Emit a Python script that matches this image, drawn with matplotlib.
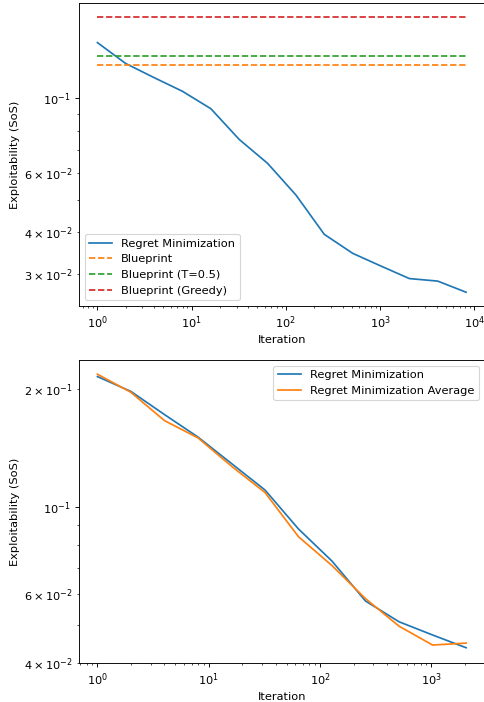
import matplotlib
matplotlib.use("Agg")
import matplotlib.pyplot as plt

# Top panel data
iters_top = [1, 2, 4, 8, 16, 32, 64, 128, 256, 512, 1024, 2048, 4096, 8192]
regret_top = [0.1466, 0.127, 0.1153, 0.105, 0.0932, 0.0755, 0.0641, 0.0516,
              0.0394, 0.0346, 0.0317, 0.0291, 0.0286, 0.0265]
blueprint = 0.1259
blueprint_t05 = 0.134
blueprint_greedy = 0.175

# Bottom panel data
iters_bot = [1, 2, 4, 8, 16, 32, 64, 128, 256, 512, 1024, 2048]
regret_bot = [0.215, 0.197, 0.172, 0.1507, 0.129, 0.1104, 0.0878, 0.0727,
              0.0575, 0.0509, 0.0471, 0.0437]
regret_avg = [0.218, 0.196, 0.166, 0.150, 0.127, 0.1088, 0.0839, 0.0708,
              0.0583, 0.0496, 0.0444, 0.0449]

DPI = 82
fig = plt.figure(figsize=(484 / DPI, 702 / DPI), dpi=DPI)
ax1 = fig.add_axes([79 / 484, 1 - 306 / 702, 405.5 / 484, 303 / 702])
ax2 = fig.add_axes([79 / 484, 1 - 663 / 702, 405.5 / 484, 303 / 702])

ax1.plot(iters_top, regret_top, label="Regret Minimization")
ax1.plot(iters_top, [blueprint] * len(iters_top), "--", label="Blueprint")
ax1.plot(iters_top, [blueprint_t05] * len(iters_top), "--", label="Blueprint (T=0.5)")
ax1.plot(iters_top, [blueprint_greedy] * len(iters_top), "--", label="Blueprint (Greedy)")
ax1.set_xscale("log")
ax1.set_yscale("log")
ax1.set_xlabel("Iteration")
ax1.set_ylabel("Exploitability (SoS)")
ax1.legend(loc="lower left")

ax2.plot(iters_bot, regret_bot, label="Regret Minimization")
ax2.plot(iters_bot, regret_avg, label="Regret Minimization Average")
ax2.set_xscale("log")
ax2.set_yscale("log")
ax2.set_ylim(0.03995, 0.237)
ax2.set_xlabel("Iteration")
ax2.set_ylabel("Exploitability (SoS)")
ax2.legend(loc="upper right")

fig.savefig("out.png", dpi=DPI)
